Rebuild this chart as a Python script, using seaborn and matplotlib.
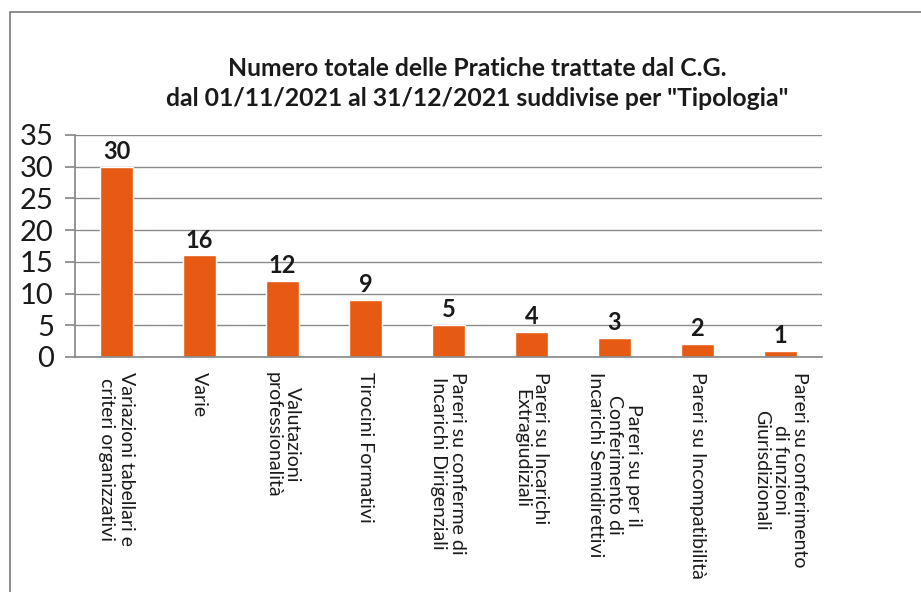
import matplotlib
matplotlib.use("Agg")
import matplotlib.pyplot as plt
import seaborn as sns
import pandas as pd
from matplotlib.patches import Rectangle

categories = [
    "Variazioni tabellari e\ncriteri organizzativi",
    "Varie",
    "Valutazioni\nprofessionalità",
    "Tirocini Formativi",
    "Pareri su conferme di\nIncarichi Dirigenziali",
    "Pareri su Incarichi\nExtragiudiziali",
    "Pareri su per il\nConferimento di\nIncarichi Semidirettivi",
    "Pareri su Incompatibilità",
    "Pareri su conferimento\ndi funzioni\nGiurisdizionali",
]
values = [30, 16, 12, 9, 5, 4, 3, 2, 1]
y_ticks = [0, 5, 10, 15, 20, 25, 30, 35]

title = ("Numero totale delle Pratiche trattate dal C.G.\n"
         "dal 01/11/2021 al 31/12/2021 suddivise per \"Tipologia\"")

sns.set_theme(style="white")
plt.rcParams["font.family"] = ["Lato", "DejaVu Sans"]

df = pd.DataFrame({"tipologia": categories, "pratiche": values})

fig = plt.figure(figsize=(9.21, 5.92), dpi=100)
ax = fig.add_axes([0.0814, 0.397, 0.811, 0.375])

sns.barplot(data=df, x="tipologia", y="pratiche", color="#E65A14",
            saturation=1, width=0.39, ax=ax)

ax.set_ylim(0, 35)
ax.set_yticks(y_ticks)
ax.set_xlim(-0.5, len(categories) - 0.5)
ax.yaxis.grid(True, color="#8a8a8a", linewidth=1.0)
ax.set_axisbelow(True)
for s in ["top", "right"]:
    ax.spines[s].set_visible(False)
ax.spines["left"].set_color("#8a8a8a")
ax.spines["bottom"].set_color("#8a8a8a")
ax.tick_params(axis="y", left=True, length=7.2, color="#8a8a8a",
               labelsize=21, pad=8, labelcolor="#1a1a1a")
ax.tick_params(axis="x", bottom=False, labelsize=14, pad=5,
               labelcolor="#1a1a1a")
plt.setp(ax.get_xticklabels(), rotation=270, va="top", ha="center",
         multialignment="center", linespacing=1.15)
ax.set_xlabel("")
ax.set_ylabel("")

for i, v in enumerate(values):
    ax.text(i, v + 0.6, str(v), ha="center", va="bottom",
            fontsize=17, fontweight="bold", color="#1a1a1a")

fig.text(0.518, 0.859, title, ha="center", va="center", fontsize=17.8,
         fontweight="bold", color="#1a1a1a", linespacing=1.35)

# scanned page frame
fig.patches.append(Rectangle((0.011, -0.1), 1.2, 1.08, transform=fig.transFigure,
                             fill=False, edgecolor="#7a7a7a", linewidth=1.2))

fig.savefig("out.png", dpi=100)
